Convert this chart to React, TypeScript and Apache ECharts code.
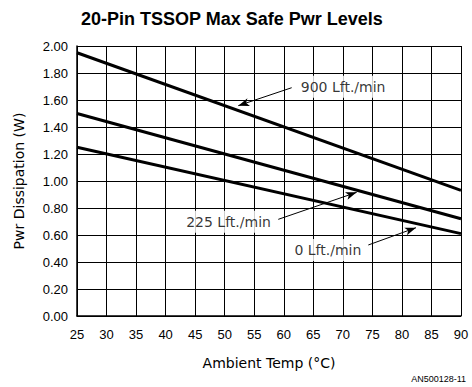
import React, { useEffect, useRef } from "react";
import * as echarts from "echarts";

const titleText = "20-Pin TSSOP Max Safe Pwr Levels";
const xName = "Ambient Temp (°C)";
const yName = "Pwr Dissipation (W)";
const footnote = "AN500128-11";

const series900 = [[25, 1.95], [90, 0.93]];
const series225 = [[25, 1.5], [90, 0.72]];
const series0 = [[25, 1.25], [90, 0.61]];

// annotation arrows: [tailX, tailY, headX, headY]
const arrows = [
  [61.34, 1.691, 52.3, 1.558],
  [59.07, 0.716, 72.34, 0.916],
  [74.31, 0.526, 82.38, 0.654],
];

// annotation labels: [x, y, text, side]
const labels: [number, number, string, string][] = [
  [62.2, 1.699, "900 Lft./min", "right"],
  [58.5, 0.699, "225 Lft./min", "left"],
  [73.8, 0.489, "0 Lft./min", "left"],
];

export default function App() {
  const ref = useRef<HTMLDivElement>(null);
  useEffect(() => {
    document.body.style.margin = "0";
    const chart = echarts.init(ref.current!, null, { renderer: "svg" });
    const lineStyle = { color: "#000", width: 3 };
    chart.setOption({
      animation: false,
      title: {
        text: titleText,
        left: 76,
        top: 5,
        textStyle: {
          fontFamily: "Liberation Sans",
          fontWeight: "bold",
          fontSize: 18,
          color: "#000",
        },
      },
      grid: { left: 77, right: 11, top: 46, bottom: 71 },
      xAxis: {
        type: "value",
        min: 25,
        max: 90,
        interval: 5,
        name: xName,
        nameLocation: "middle",
        nameGap: 40,
        nameTextStyle: { fontFamily: "DejaVu Sans", fontSize: 14, color: "#000" },
        axisLine: { lineStyle: { color: "#000", width: 1.5 } },
        axisTick: { show: false },
        axisLabel: { margin: 12, fontFamily: "Liberation Sans", fontSize: 13, color: "#000" },
        splitLine: { show: true, lineStyle: { color: "#000", width: 1 } },
      },
      yAxis: {
        type: "value",
        min: 0,
        max: 2,
        interval: 0.2,
        name: yName,
        nameLocation: "middle",
        nameGap: 51,
        nameRotate: 90,
        nameTextStyle: { fontFamily: "DejaVu Sans", fontSize: 14, color: "#000" },
        axisLine: { show: true, lineStyle: { color: "#000", width: 1.5 } },
        axisTick: { show: false },
        axisLabel: {
          margin: 9,
          fontFamily: "Liberation Sans",
          fontSize: 13,
          color: "#000",
          formatter: (v: number) => v.toFixed(2),
        },
        splitLine: { show: true, lineStyle: { color: "#000", width: 1 } },
      },
      graphic: [
        {
          type: "text",
          right: 6,
          bottom: 4,
          style: {
            text: footnote,
            fontFamily: "Liberation Sans",
            fontSize: 9,
            fill: "#000",
          },
        },
      ],
      series: [
        {
          type: "line",
          data: series900,
          symbol: "none",
          lineStyle,
          markLine: {
            silent: true,
            symbol: ["none", "arrow"],
            symbolSize: [6, 11],
            label: { show: false },
            lineStyle: { color: "#000", width: 1, type: "solid" },
            data: arrows.map((a) => [
              { coord: [a[0], a[1]] },
              { coord: [a[2], a[3]] },
            ]),
          },
        },
        { type: "line", data: series225, symbol: "none", lineStyle },
        { type: "line", data: series0, symbol: "none", lineStyle },
        {
          type: "scatter",
          symbolSize: 0,
          z: 5,
          data: labels.map((l) => ({
            value: [l[0], l[1]],
            label: {
              show: true,
              position: l[3],
              distance: 0,
              formatter: l[2],
              fontFamily: "DejaVu Sans",
              fontSize: 14,
              color: "#000",
              backgroundColor: "#fff",
              padding: [4, 4],
            },
          })),
        },
      ],
    });
    return () => chart.dispose();
  }, []);
  return (
    <div
      ref={ref}
      style={{ position: "absolute", left: 0, top: 0, width: 472, height: 387 }}
    />
  );
}
